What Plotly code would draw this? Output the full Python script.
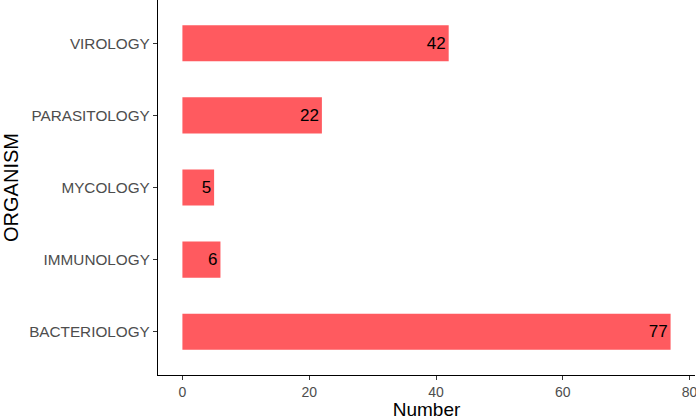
import plotly.graph_objects as go

organisms = ["BACTERIOLOGY", "IMMUNOLOGY", "MYCOLOGY", "PARASITOLOGY", "VIROLOGY"]
counts = [77, 6, 5, 22, 42]
x_ticks = [0, 20, 40, 60, 80]

fig = go.Figure(
    go.Bar(
        x=counts,
        y=organisms,
        orientation="h",
        width=0.5,
        marker=dict(color="#FF5A5F", line=dict(width=0)),
        text=[str(c) for c in counts],
        textposition="inside",
        insidetextanchor="end",
        constraintext="none",
        textfont=dict(color="black", size=17, family="Liberation Sans"),
        cliponaxis=False,
    )
)

fig.update_layout(
    width=696,
    height=420,
    margin=dict(l=158, r=1, t=0, b=45),
    plot_bgcolor="white",
    paper_bgcolor="white",
    font=dict(family="Liberation Sans", color="#4d4d4d"),
    showlegend=False,
)

fig.update_xaxes(
    range=[-3.85, 80.85],
    tickvals=x_ticks,
    ticks="outside",
    ticklen=4,
    tickcolor="#333333",
    tickfont=dict(size=14, color="#4d4d4d"),
    ticklabeloverflow="allow",
    showline=True,
    linecolor="black",
    linewidth=1.2,
    showgrid=False,
    zeroline=False,
    automargin=False,
    title=dict(text="Number", font=dict(size=19, color="black"), standoff=4),
)

fig.update_yaxes(
    range=[-0.6, 4.6],
    categoryorder="array",
    categoryarray=organisms,
    ticks="outside",
    ticklen=4,
    tickcolor="#333333",
    tickfont=dict(size=15.3, color="#4d4d4d"),
    showline=True,
    linecolor="black",
    linewidth=1.2,
    showgrid=False,
    automargin=False,
    title=dict(text="ORGANISM", font=dict(size=20, color="black"), standoff=5),
)

# drop the browser's default body margin so the figure sits at the page corner
fig.write_html(
    "out.html",
    config={"displayModeBar": False},
    post_script="document.body.style.margin='0';",
)
